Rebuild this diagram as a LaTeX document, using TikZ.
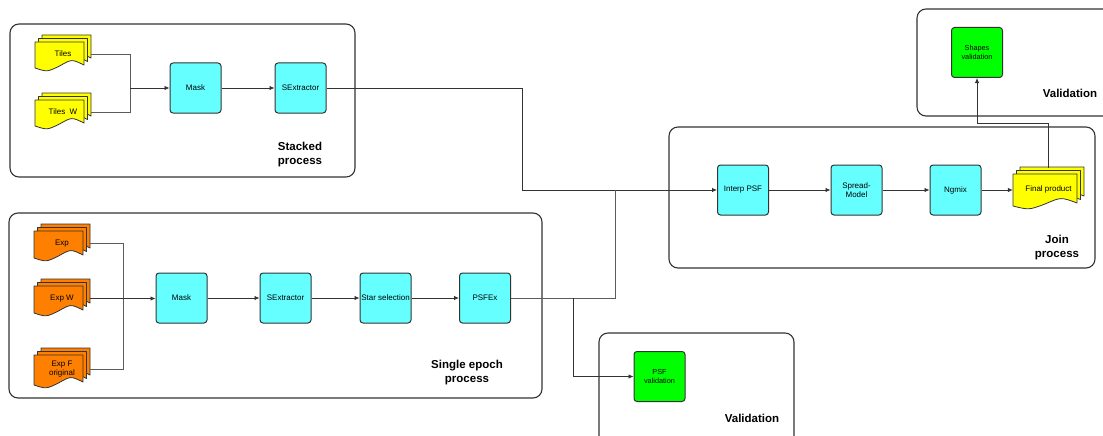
\documentclass[tikz,border=0pt]{standalone}
\usepackage{fontspec}
\setmainfont{Liberation Sans}
\usetikzlibrary{arrows.meta,positioning}
\definecolor{procfill}{HTML}{66FFFF}
\definecolor{tilefill}{HTML}{FFFF00}
\definecolor{expfill}{HTML}{FF8000}
\definecolor{checkfill}{HTML}{00FF00}
\definecolor{edge}{HTML}{333333}
\tikzset{
  process/.style={draw=edge, fill=procfill, line width=1pt, rounded corners=3pt, minimum width=51pt, minimum height=50pt, inner sep=1pt, align=center, font=\fontsize{8}{9.5}\selectfont},
  check/.style={process, fill=checkfill, font=\fontsize{7.3}{8.5}\selectfont},
  group/.style={draw=edge, line width=1.1pt, rounded corners=9pt},
  grouplabel/.style={align=center, font=\bfseries\fontsize{11.5}{14}\selectfont},
  sheet/.style={draw=edge, line width=0.8pt, line join=round},
  doctext/.style={inner sep=0pt, align=center, font=\fontsize{8}{9.5}\selectfont},
  link/.style={draw=edge, line width=0.8pt, -{Latex[length=5pt,width=4.5pt]}},
  wire/.style={draw=edge!80, line width=0.7pt},
}
\newcommand{\docstack}[7]{%
  \foreach \k in {2,1,0}{
    \begin{scope}[shift={(#2+3.5*\k,#3+7-3.5*\k)}]
      \draw[sheet, fill=#6] (0,0) -- (#4,0) -- (#4,#5-5)
        .. controls (0.75*#4,#5-11) .. (0.5*#4,#5-4)
        .. controls (0.25*#4,#5+2) .. (0,#5-2) -- cycle;
    \end{scope}
  }
  \node[doctext, minimum width=#4+7, minimum height=#5+7] (#1) at (#2+3.5+0.5*#4,#3+5+0.5*#5) {#7};
}

\begin{document}
\begin{tikzpicture}[x=1pt, y=-1pt]
		\useasboundingbox (0,0) rectangle (1103,436);

		\draw[group] (10,24) rectangle (355,177);
		\draw[group] (9,213) rectangle (542,398);
		\draw[group] (669,127) rectangle (1095,268);
		\draw[group] (917,9) rectangle (1125,116);
		\draw[group] (599,333) rectangle (794,460);

		\docstack{tiles}{35}{35}{49}{28}{tilefill}{Tiles}
		\docstack{tilesw}{35}{93}{49}{28}{tilefill}{Tiles~~W}
		\docstack{exp}{34}{224}{49}{29}{expfill}{Exp}
		\docstack{expw}{34}{279}{49}{29}{expfill}{Exp W}
		\docstack{expf}{34}{348}{49}{32}{expfill}{Exp F\\original}
		\docstack{final}{1013}{167}{64}{34}{tilefill}{Final product}

		\node[process] (smask) at (195.5,88) {Mask};
		\node[process] (ssex) at (300.5,88) {SExtractor};

		\node[process] (emask) at (181.5,298) {Mask};
		\node[process] (esex) at (285.5,298) {SExtractor};
		\node[process] (star) at (385.5,298) {Star selection};
		\node[process] (psfex) at (485,298) {PSFEx};

		\node[process] (interp) at (743,190) {Interp PSF};
		\node[process] (spread) at (856.5,190) {Spread-\\Model};
		\node[process] (ngmix) at (955.5,190) {Ngmix};

		\node[check] (psfcheck) at (659.5,376.5) {PSF\\validation};
		\node[check] (shapecheck) at (977,52.5) {Shapes\\validation};

		\node[grouplabel] (stackedlabel) at (300,155) {Stacked\\process};
		\node[grouplabel] (singlelabel) at (467,373) {Single epoch\\process};
		\node[grouplabel] (joinlabel) at (1057,248) {Join\\process};
		\node[grouplabel] (topvallabel) at (1070,93) {Validation};
		\node[grouplabel] (botvallabel) at (752,418) {Validation};

		\coordinate (sjoin) at (130,88);
		\coordinate (ejoin) at (123,298);
		\coordinate (stackturn) at (522,190);
		\coordinate (psfturn) at (615,190);
		\coordinate (psfsplit) at (573,298);
		\coordinate (shapeturn) at (977,123);

		\draw[wire] (tiles.east) -| (sjoin);
		\draw[wire] (tilesw.east) -| (sjoin);
		\draw[link] (sjoin) -- (smask);
		\draw[link] (smask) -- (ssex);
		\draw[link] (ssex.east) -| (stackturn) -- (interp);

		\draw[wire] (exp.east) -| (ejoin);
		\draw[wire] (expf.east) -| (ejoin);
		\draw[link] (expw.east) -- (expw.east -| emask.west);
		\draw[link] (emask) -- (esex);
		\draw[link] (esex) -- (star);
		\draw[link] (star) -- (psfex);
		\draw[wire] (psfex.east) -| (psfturn);
		\draw[link] (psfsplit) |- (psfcheck);

		\draw[link] (interp) -- (spread);
		\draw[link] (spread) -- (ngmix);
		\draw[link] (ngmix.east) -- (ngmix.east -| final.west);
		\draw[link] (final.north) |- (shapeturn) -- (shapecheck);
	\end{tikzpicture}
\end{document}
